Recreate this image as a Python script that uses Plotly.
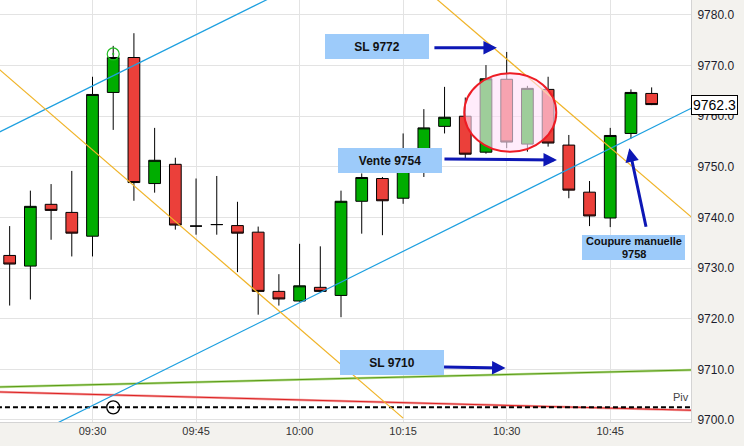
import plotly.graph_objects as go

DAY = "2024-01-02 "

# ---- candle data (3-minute bars) ----
times = ["09:18", "09:21", "09:24", "09:27", "09:30", "09:33", "09:36", "09:39",
         "09:42", "09:45", "09:48", "09:51", "09:54", "09:57", "10:00", "10:03",
         "10:06", "10:09", "10:12", "10:15", "10:18", "10:21", "10:24", "10:27",
         "10:30", "10:33", "10:36", "10:39", "10:42", "10:45", "10:48", "10:51"]
opens = [9732.5, 9730.4, 9742.6, 9741.0, 9736.3, 9764.7, 9771.6, 9746.7,
         9750.5, 9738.3, 9738.6, 9738.4, 9737.1, 9725.4, 9723.5, 9726.2,
         9724.6, 9743.2, 9747.7, 9743.8, 9751.0, 9758.0, 9760.0, 9752.9,
         9767.3, 9754.5, 9765.3, 9754.3, 9745.0, 9739.9, 9756.6, 9764.5]
highs = [9738.3, 9745.3, 9746.6, 9749.2, 9767.8, 9773.9, 9776.4, 9757.7,
         9751.8, 9747.7, 9748.2, 9743.1, 9738.2, 9728.8, 9734.8, 9734.3,
         9745.3, 9748.7, 9748.0, 9756.6, 9761.4, 9765.8, 9763.7, 9770.1,
         9772.7, 9766.0, 9767.8, 9756.3, 9747.2, 9757.7, 9765.3, 9765.7]
lows = [9722.6, 9723.8, 9735.6, 9732.3, 9732.3, 9757.3, 9743.3, 9744.9,
        9737.6, 9736.6, 9736.6, 9729.2, 9720.8, 9722.6, 9723.4, 9725.2,
        9720.3, 9736.8, 9736.5, 9742.7, 9748.0, 9756.6, 9751.4, 9752.6,
        9753.7, 9753.0, 9754.0, 9743.8, 9738.3, 9738.1, 9755.6, 9762.2]
closes = [9730.8, 9742.2, 9741.4, 9736.9, 9764.3, 9771.6, 9746.9, 9751.3,
          9738.5, 9738.3, 9738.6, 9736.9, 9725.4, 9723.9, 9726.5, 9725.4,
          9743.2, 9747.9, 9743.3, 9752.0, 9757.7, 9759.8, 9752.5, 9767.4,
          9754.9, 9765.5, 9754.7, 9745.4, 9740.3, 9756.2, 9764.7, 9762.3]

# ---- drawn lines: (time, price) end points ----
blue_upper_t = ["09:15", "10:00"]
blue_upper_p = [9755.86, 9786.23]
blue_lower_t = ["09:15", "11:00"]
blue_lower_p = [9692.7, 9763.78]
orange_upper_t = ["10:00", "11:00"]
orange_upper_p = [9806.3, 9736.3]
orange_lower_t = ["09:15", "10:15"]
orange_lower_p = [9771.0, 9700.36]
green_t = ["09:15", "11:00"]
green_p = [9706.47, 9709.99]
red_t = ["09:15", "11:00"]
red_p = [9705.59, 9701.80]
pivot_t = ["09:15", "11:00"]
pivot_p = [9702.5, 9702.5]
pivot_marker_t = ["09:33"]
pivot_marker_p = [9702.5]
entry_marker_t = ["09:33"]
entry_marker_p = [9772.3]
last_price = 9762.3

def T(s):
    return DAY + s + ("" if s.count(":") == 2 else ":00")

X = [T(t) for t in times]

fig = go.Figure()

fig.add_trace(go.Scatter(
    x=[T(t) for t in entry_marker_t], y=entry_marker_p, mode="markers",
    marker=dict(symbol="circle-open-dot", size=12, color="#22bb22",
                line=dict(width=1.2, color="#22bb22")),
    hoverinfo="skip"))

fig.add_trace(go.Candlestick(
    x=X, open=opens, high=highs, low=lows, close=closes,
    increasing=dict(line=dict(color="black", width=1), fillcolor="#00ad00"),
    decreasing=dict(line=dict(color="black", width=1), fillcolor="#eb403a"),
    whiskerwidth=0))

def line(ts, ps, color, width, dash="solid"):
    fig.add_trace(go.Scatter(x=[T(t) for t in ts], y=ps, mode="lines",
                             line=dict(color=color, width=width, dash=dash),
                             hoverinfo="skip"))

line(green_t, green_p, "rgba(160,210,110,0.8)", 2.5)
line(green_t, green_p, "#5a9a14", 1)
line(red_t, red_p, "rgba(240,140,140,0.8)", 2.5)
line(red_t, red_p, "#dd2222", 1)
line(pivot_t, pivot_p, "black", 2, "5px,3px")
line(blue_upper_t, blue_upper_p, "#1ea0e0", 1.2)
line(blue_lower_t, blue_lower_p, "#1ea0e0", 1.2)
line(orange_upper_t, orange_upper_p, "#f0b429", 1.2)
line(orange_lower_t, orange_lower_p, "#f0b429", 1.2)

fig.add_trace(go.Scatter(
    x=[T(t) for t in pivot_marker_t], y=pivot_marker_p, mode="markers",
    marker=dict(symbol="circle-open-dot", size=13, color="black",
                line=dict(width=1.3, color="black")),
    hoverinfo="skip"))

# highlight ellipse
fig.add_shape(type="circle", xref="x", yref="y",
              x0=T("10:23:51"), x1=T("10:37:11"), y0=9753.0, y1=9768.48,
              line=dict(color="#ee1c24", width=2),
              fillcolor="rgba(255,225,248,0.62)", layer="above")

BOX = "#9dcbfa"
ARROW = "#0d17b5"
anns = []

def box(t, p, text, w=104, h=25, size=12):
    anns.append(dict(x=T(t), y=p, xref="x", yref="y", text=text, showarrow=False,
                     bgcolor=BOX, width=w, height=h, borderpad=0, borderwidth=0,
                     font=dict(family="Liberation Sans, Arial", size=size, color="#111"),
                     xanchor="center", yanchor="middle"))

def arrow(t, p, ax, ay):
    anns.append(dict(x=T(t), y=p, xref="x", yref="y", text="", showarrow=True,
                     ax=ax, ay=ay, arrowhead=2, arrowsize=0.9, arrowwidth=3,
                     arrowcolor=ARROW, standoff=0, startstandoff=0))

box("10:11:16", 9773.72, "<b>SL 9772</b>")
arrow("10:28:35", 9773.54, -64, 0)
box("10:13:07", 9751.20, "<b>Vente 9754</b>")
arrow("10:37:17", 9751.36, -114, -1)
box("10:13:19", 9711.32, "<b>SL 9710</b>")
arrow("10:29:50", 9710.27, -63, -1)
box("10:48:23", 9734.07, " ", w=103, h=25)
anns.append(dict(x=T("10:48:23"), y=9735.3, xref="x", yref="y", showarrow=False,
                 text="<b>Coupure manuelle</b>",
                 font=dict(family="Liberation Sans, Arial", size=11, color="#111")))
anns.append(dict(x=T("10:48:23"), y=9732.85, xref="x", yref="y", showarrow=False,
                 text="<b>9758</b>",
                 font=dict(family="Liberation Sans, Arial", size=11, color="#111")))
arrow("10:47:46", 9753.67, 17, 80)

anns.append(dict(x=1, xref="paper", y=9704.6, yref="y", text="Piv", showarrow=False,
                 xanchor="right", yanchor="middle",
                 font=dict(family="Liberation Sans, Arial", size=11, color="#444")))
anns.append(dict(x=1, xref="paper", y=last_price, yref="y", text=f"{last_price:.1f}",
                 showarrow=False, xanchor="left", yanchor="middle",
                 bgcolor="white", bordercolor="black", borderwidth=1, borderpad=1,
                 font=dict(family="Liberation Sans, Arial", size=14, color="black")))

fig.update_layout(
    width=744, height=446,
    margin=dict(l=0, r=53, t=0, b=24),
    paper_bgcolor="#f3f2ee", plot_bgcolor="white",
    showlegend=False, annotations=anns,
    font=dict(family="Liberation Sans, Arial"),
    boxgap=0.3, boxgroupgap=0.19,
)
fig.update_xaxes(type="date", range=[T("09:16:36"), T("10:56:42")],
                 tickformat="%H:%M", dtick=15 * 60 * 1000, tick0=T("09:30"),
                 showgrid=True, gridcolor="#e3e3e3", gridwidth=1,
                 rangeslider_visible=False, showline=True, linecolor="#d4d4d4",
                 zeroline=False, ticks="", ticklabelstandoff=-1,
                 tickfont=dict(size=11, color="#333"))
fig.update_yaxes(side="right", range=[9699.6, 9782.96], dtick=10, tick0=9700,
                 tickformat=".1f", showgrid=True, gridcolor="#e3e3e3",
                 showline=True, linecolor="#d4d4d4", zeroline=False, ticks="",
                 ticklabelstandoff=3, tickfont=dict(size=12, color="#1c1c2c"))

fig.write_html("out.html", config={"displayModeBar": False},
               post_script="document.body.style.margin='0px';"
                           "document.body.style.overflow='hidden';")
